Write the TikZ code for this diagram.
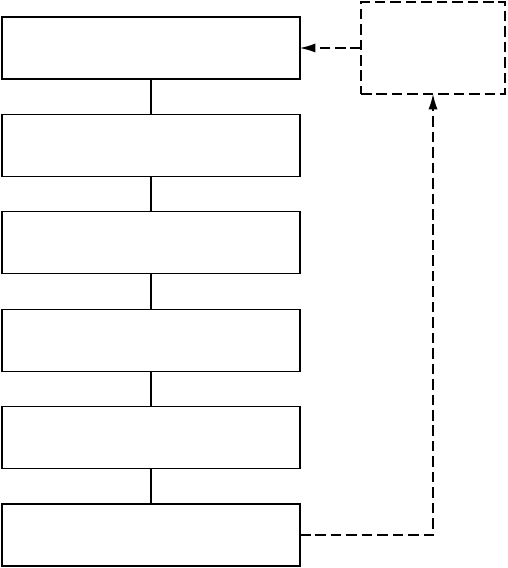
\documentclass[tikz,border=0pt]{standalone}
\usepackage{tikz}
\usetikzlibrary{positioning, arrows.meta}
\tikzset{
  stagebox/.style={draw, line width=0.9pt, minimum width=7.45cm, minimum height=1.55cm, inner sep=0pt, outer sep=0pt},
  feedbox/.style={draw, line width=0.9pt, dash pattern=on 7.5pt off 3.5pt, minimum width=3.6cm, minimum height=2.3cm, inner sep=0pt, outer sep=0pt},
  link/.style={line width=0.9pt},
  feedwire/.style={-{Latex[length=11pt, width=6.5pt]}, line width=0.9pt, dash pattern=on 7.5pt off 3.5pt}
}
\begin{document}
\begin{tikzpicture}[node distance=0.885cm]
        \useasboundingbox (0,0) rectangle (12.7,14.2);
        \node[stagebox] (s1) at (3.775,13.0) {};
        \node[stagebox, below=of s1] (s2) {};
        \node[stagebox, below=of s2] (s3) {};
        \node[stagebox, below=of s3] (s4) {};
        \node[stagebox, below=of s4] (s5) {};
        \node[stagebox, below=of s5] (s6) {};
        \foreach \a/\b in {s1/s2, s2/s3, s3/s4, s4/s5, s5/s6}
          \draw[link] (\a) -- (\b);
        \node[feedbox, right=1.525cm of s1] (fb) {};
        \draw[feedwire] (fb) -- (s1);
        \draw[feedwire] (s6.east) -| (fb.south);
      \end{tikzpicture}
\end{document}
